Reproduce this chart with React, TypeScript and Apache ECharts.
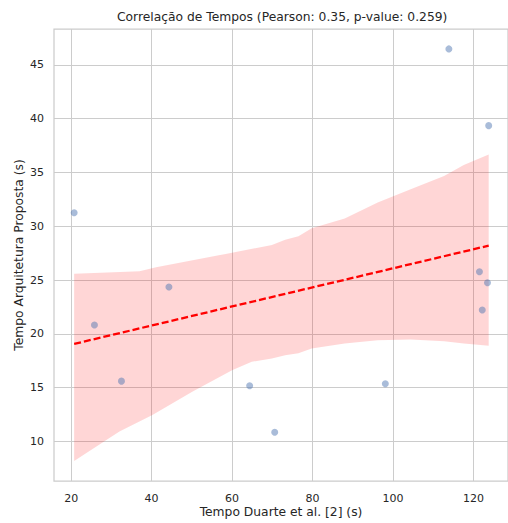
import React, { useEffect, useRef } from 'react';
import * as echarts from 'echarts';

const tempoDuarte = [20.74, 25.78, 32.5, 44.3, 64.37, 70.6, 113.9, 123.8, 121.5, 123.5, 122.2, 98.1];
const tempoProposta = [31.26, 20.83, 15.61, 24.35, 15.18, 10.86, 46.48, 39.35, 25.77, 24.75, 22.22, 15.37];
const fitX = [20.74, 123.8];
const fitY = [19.07, 28.2];
const bandUpperX = [20.74, 37, 41.1, 58.4, 69.9, 73.2, 76.5, 79.8, 88, 96.2, 104.4, 112.7, 117.6, 123.8];
const bandUpperY = [25.58, 25.83, 26.2, 27.43, 28.27, 28.75, 29.07, 29.81, 30.73, 32.2, 33.45, 34.67, 35.69, 36.68];
const bandLowerX = [20.74, 32, 40.2, 50.1, 60, 64.9, 69.9, 73.2, 76.5, 79.8, 88, 96.2, 104.4, 112.7, 117.6, 123.8];
const bandLowerY = [8.2, 10.93, 12.46, 14.63, 16.63, 17.41, 17.72, 18.02, 18.2, 18.64, 19.1, 19.41, 19.48, 19.32, 19.1, 18.89];
const xTicks = [20, 40, 60, 80, 100, 120];
const yTicks = [10, 15, 20, 25, 30, 35, 40, 45];

const FONT = 'DejaVu Sans';
const TEXT = '#262626';
const GRID = '#cccccc';

export default function App() {
  const ref = useRef<HTMLDivElement>(null);
  useEffect(() => {
    if (!ref.current) return;
    const chart = echarts.init(ref.current, undefined, { renderer: 'svg' });
    const points = tempoDuarte.map((x, i) => [x, tempoProposta[i]]);
    const fit = fitX.map((x, i) => [x, fitY[i]]);
    chart.setOption({
      animation: false,
      backgroundColor: '#ffffff',
      title: {
        text: 'Correlação de Tempos (Pearson: 0.35, p-value: 0.259)',
        left: 117,
        top: 11,
        padding: 0,
        textStyle: { fontFamily: FONT, fontSize: 12.3, fontWeight: 'normal', color: TEXT },
      },
      grid: {
        left: 54,
        top: 29,
        right: -3,
        bottom: 40,
        show: true,
        borderColor: GRID,
        borderWidth: 1.25,
        backgroundColor: 'transparent',
      },
      xAxis: {
        type: 'value',
        min: 15.73,
        max: 128.6,
        axisLine: { show: false },
        axisTick: { show: false, customValues: xTicks },
        axisLabel: { customValues: xTicks, color: TEXT, fontFamily: FONT, fontSize: 11, margin: 12 },
        splitLine: { show: true, lineStyle: { color: GRID, width: 1 } },
        name: 'Tempo Duarte et al. [2] (s)',
        nameLocation: 'middle',
        nameGap: 25,
        nameMoveOverlap: false,
        nameTextStyle: { color: TEXT, fontFamily: FONT, fontSize: 12.3 },
      },
      yAxis: {
        type: 'value',
        min: 6.33,
        max: 48.33,
        axisLine: { show: false },
        axisTick: { show: false, customValues: yTicks },
        axisLabel: { customValues: yTicks, color: TEXT, fontFamily: FONT, fontSize: 11, margin: 10 },
        splitLine: { show: true, lineStyle: { color: GRID, width: 1 } },
        name: 'Tempo Arquitetura Proposta (s)',
        nameLocation: 'middle',
        nameGap: 29,
        nameMoveOverlap: false,
        nameTextStyle: { color: TEXT, fontFamily: FONT, fontSize: 12.3 },
      },
      series: [
        {
          type: 'scatter',
          data: points,
          symbolSize: 7,
          itemStyle: { color: 'rgba(76,114,176,0.6)' },
        },
        {
          type: 'custom',
          data: [[bandUpperX[0], bandUpperY[0]]],
          renderItem: (_params: any, api: any) => {
            const pts: number[][] = [];
            bandUpperX.forEach((x, i) => pts.push(api.coord([x, bandUpperY[i]])));
            for (let i = bandLowerX.length - 1; i >= 0; i--) {
              pts.push(api.coord([bandLowerX[i], bandLowerY[i]]));
            }
            return {
              type: 'polygon',
              shape: { points: pts },
              style: { fill: 'rgba(255,0,0,0.16)', stroke: 'none' },
            };
          },
        },
        {
          type: 'line',
          data: fit,
          symbol: 'none',
          lineStyle: { color: '#ff0000', width: 2.3, type: [7, 3] },
        },
      ],
    });
    return () => chart.dispose();
  }, []);
  return <div ref={ref} style={{ position: 'fixed', left: 0, top: 0, width: 508, height: 523 }} />;
}
